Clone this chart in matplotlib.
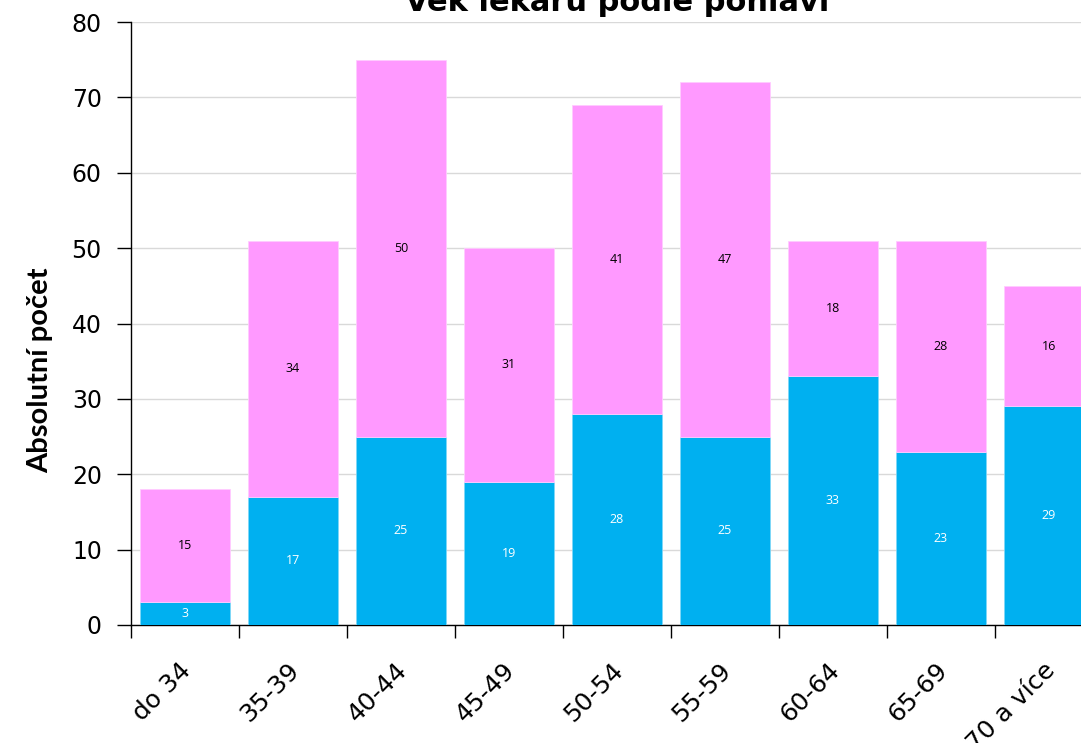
import matplotlib
matplotlib.use("Agg")
import matplotlib.pyplot as plt
import matplotlib.transforms as mtransforms
import numpy as np

categories = ["do 34", "35-39", "40-44", "45-49", "50-54", "55-59", "60-64", "65-69", "70 a více"]
muzi = [3, 17, 25, 19, 28, 25, 33, 23, 29]
zeny = [15, 34, 50, 31, 41, 47, 18, 28, 16]
yticks = [0, 10, 20, 30, 40, 50, 60, 70, 80]

blue = "#00B0F0"
pink = "#FF99FF"

W, H = 1081, 743
fig = plt.figure(figsize=(W / 100, H / 100), dpi=100)
ax = fig.add_axes([131 / W, (H - 625) / H, 972 / W, 603 / H])

x = np.arange(len(categories))
bw = 0.83
ax.bar(x, muzi, width=bw, color=blue, edgecolor="#7FD7F7", linewidth=0.6, zorder=3)
ax.bar(x, zeny, width=bw, bottom=muzi, color=pink, edgecolor="#FFCCFF", linewidth=0.6, zorder=3)

for xi, m, z in zip(x, muzi, zeny):
    ax.text(xi, m / 2, str(m), ha="center", va="center", color="white", fontsize=9, family="Open Sans", zorder=4)
    ax.text(xi, m + z / 2, str(z), ha="center", va="center", color="black", fontsize=9, family="Open Sans", zorder=4)

ax.set_xlim(-0.5, len(categories) - 0.5)
ax.set_ylim(0, 80)
ax.set_yticks(yticks)
ax.set_yticklabels([str(v) for v in yticks], fontsize=17, family="DejaVu Sans")
ax.yaxis.grid(True, color="#D9D9D9", linewidth=1, zorder=0)
ax.set_axisbelow(True)

ax.set_xticks(x)
ax.set_xticklabels(categories, rotation=45, ha="right", rotation_mode="anchor", fontsize=18, family="DejaVu Sans")
ax.tick_params(axis="x", which="major", length=0, pad=24)
offset = mtransforms.ScaledTranslation(-6 / 100, 0, fig.dpi_scale_trans)
for lab in ax.get_xticklabels():
    lab.set_transform(lab.get_transform() + offset)
ax.set_xticks(np.arange(-0.5, len(categories), 1.0), minor=True)
ax.tick_params(axis="x", which="minor", length=9, width=1, direction="out")
ax.tick_params(axis="y", length=10, width=1, direction="out", pad=11)

for s in ["top", "right"]:
    ax.spines[s].set_visible(False)
for s in ["left", "bottom"]:
    ax.spines[s].set_color("black")
    ax.spines[s].set_linewidth(1)

ax.set_ylabel("Absolutní počet", fontsize=21, fontweight="bold", family=["Lato", "DejaVu Sans"])
ax.yaxis.set_label_coords(-0.080, 0.423)

ax.set_title("Věk lékařů podle pohlaví", fontsize=22, fontweight="bold", family="DejaVu Sans", pad=8, y=1.0)

fig.savefig("out.png", dpi=100)
